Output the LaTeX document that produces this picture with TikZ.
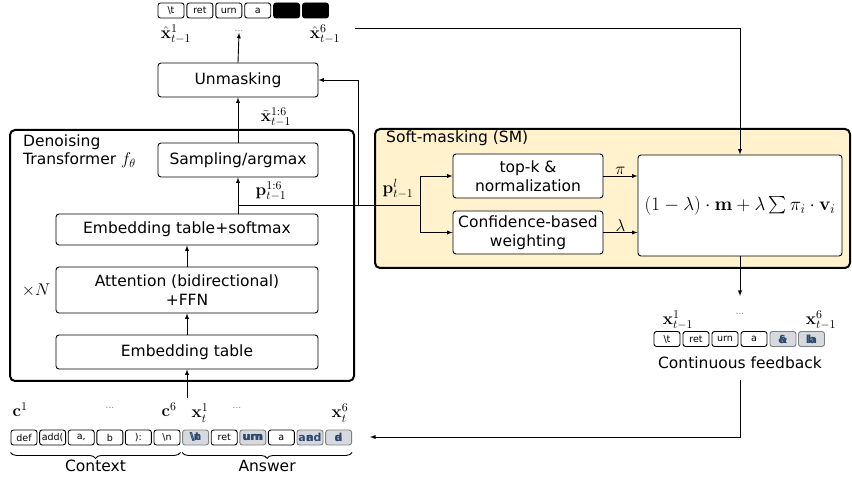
\RequirePackage{fix-cm}
\documentclass[tikz,border=0pt]{standalone}
\usepackage{amsmath}
\usepackage[no-math]{fontspec}
\setmainfont{DejaVu Sans}
\usetikzlibrary{decorations.pathreplacing}
\definecolor{smfill}{HTML}{FFF2CC}
\definecolor{tokgray}{HTML}{D6D9DE}
\definecolor{tokblue}{HTML}{2E4A6E}
\newcommand{\ovl}[2]{\makebox[0pt]{#1}\makebox[0pt]{#2}}
\newcommand{\bs}{\textbackslash}

\tikzset{
  box/.style={draw, fill=white, rounded corners=3pt, align=center, inner sep=0pt,
    line width=0.9pt, font=\fontsize{15.5}{18.5}\selectfont},
  frame/.style={draw, rounded corners=5pt, line width=2pt},
  tok/.style={draw, fill=white, rounded corners=2.5pt, minimum width=26pt,
    minimum height=15pt, inner sep=0pt, line width=0.9pt, font=\fontsize{9.5}{10}\selectfont},
  softtok/.style={tok, draw=gray, fill=tokgray, text=tokblue, font=\fontsize{11}{11}\selectfont\bfseries},
  masktok/.style={tok, fill=black},
  lbl/.style={font=\fontsize{15.5}{18}\selectfont, inner sep=1pt},
  mlbl/.style={font=\fontsize{17}{19}\selectfont, inner sep=0pt},
  dotsl/.style={font=\fontsize{9}{9}\selectfont, text=gray, inner sep=1pt},
  link/.style={line width=0.9pt},
  arr/.style={link, -latex},
}

\begin{document}
\begin{tikzpicture}[x=1pt, y=-1pt]
  \useasboundingbox (0,0) rectangle (852,486);

  % outer frames
  \draw[frame] (10,130) rectangle (354,381);
  \draw[frame, fill=smfill] (375,129) rectangle (850,268);
  \node[lbl, align=left, anchor=north west] (dtlabel) at (22,134) {Denoising\\Transformer \fontsize{17}{18}\selectfont$f_\theta$};
  \node[lbl, anchor=north west] (smlabel) at (385,130) {Soft-masking (SM)};

  % transformer blocks
  \node[box, minimum width=160pt, minimum height=34pt] (unmask) at (238,80) {Unmasking};
  \node[box, minimum width=160pt, minimum height=34pt] (sample) at (238,160) {Sampling/argmax};
  \node[box, minimum width=262pt, minimum height=31pt] (embsoft) at (187,229.5) {Embedding table+softmax};
  \node[box, minimum width=262pt, minimum height=46pt] (attn) at (187,290) {Attention (bidirectional)\\+FFN};
  \node[box, minimum width=262pt, minimum height=34pt] (emb) at (187,352) {Embedding table};
  \node[mlbl] (timesn) at (36,290) {$\times N$};

  % soft-masking blocks
  \node[box, minimum width=150pt, minimum height=44pt] (topk) at (528,176) {top-k \&\\normalization};
  \node[box, minimum width=150pt, minimum height=43pt] (conf) at (528,232.5) {Confidence-based\\weighting};
  \node[box, minimum width=204pt, minimum height=101pt, font=\fontsize{19}{21}\selectfont] (mix) at (740,205.5)
    {$(1-\lambda)\cdot\mathbf{m}+\lambda\sum\pi_i\cdot\mathbf{v}_i$};

  % tokens: context / answer
  \foreach \t [count=\i] in {def, add(, {a,}, b, ):, \bs n}{%
    \node[tok] (ctx\i) at ({24+28.6*(\i-1)},437.5) {\t};
  }
  \node[softtok] (ans1) at (195.6,437.5) {\ovl{\bs t}{\bs n}};
  \node[tok]     (ans2) at (224.2,437.5) {ret};
  \node[softtok] (ans3) at (252.8,437.5) {\ovl{urn}{um}};
  \node[tok]     (ans4) at (281.4,437.5) {a};
  \node[softtok] (ans5) at (310.0,437.5) {\ovl{and}{a}};
  \node[softtok] (ans6) at (338.6,437.5) {\ovl{d}{a}};

  % tokens: unmasked output
  \foreach \t [count=\i] in {\bs t, ret, urn, a}{%
    \node[tok] (out\i) at ({171+28.9*(\i-1)},10.5) {\t};
  }
  \node[masktok] (out5) at (286.6,10.5) {};
  \node[masktok] (out6) at (315.5,10.5) {};

  % tokens: continuous feedback
  \foreach \t [count=\i] in {\bs t, ret, urn, a}{%
    \node[tok] (fb\i) at ({667+29*(\i-1)},339) {\t};
  }
  \node[softtok] (fb5) at (783,339) {\ovl{\&}{a}};
  \node[softtok] (fb6) at (811.5,339) {\ovl{la}{b}};

  % labels
  \node[mlbl] (c1) at (20,410) {$\mathbf{c}^1$};
  \node[dotsl] (cdots) at (110,408) {...};
  \node[mlbl] (c6) at (169,410) {$\mathbf{c}^6$};
  \node[mlbl] (x1) at (200,413) {$\mathbf{x}_t^1$};
  \node[dotsl] (xdots) at (237,408) {...};
  \node[mlbl] (x6) at (340,413) {$\mathbf{x}_t^6$};
  \node[mlbl] (xh1) at (176,34) {$\hat{\mathbf{x}}_{t-1}^1$};
  \node[dotsl] (xhdots) at (239,31) {...};
  \node[mlbl] (xh6) at (325,34) {$\hat{\mathbf{x}}_{t-1}^6$};
  \node[mlbl] (f1) at (678,320) {$\mathbf{x}_{t-1}^1$};
  \node[dotsl] (fdots) at (740,314) {...};
  \node[mlbl] (f6) at (821,320) {$\mathbf{x}_{t-1}^6$};
  \node[lbl] (fbtext) at (740,363) {Continuous feedback};

  % braces
  \draw[decorate, decoration={brace, mirror, amplitude=6pt}, line width=0.9pt]
    ([yshift=-7pt]ctx1.south west) -- ([yshift=-7pt]ctx6.south east) node[midway, below=6pt, lbl] (ctxlbl) {Context};
  \draw[decorate, decoration={brace, mirror, amplitude=6pt}, line width=0.9pt]
    ([yshift=-7pt]ans1.south west) -- ([yshift=-7pt]ans6.south east) node[midway, below=6pt, lbl] (anslbl) {Answer};

  % helper points
  \coordinate (pjoin) at (238,205);
  \coordinate (ujoin) at (358,205);
  \coordinate (sjoin) at (420,205);
  \coordinate (topstart) at (355,28);
  \coordinate (inbot) at (187,398);
  \coordinate (mixend) at (740,296);
  \coordinate (fbstart) at (740,380);
  \coordinate (fbturn) at (740,437);
  \coordinate (fbend) at (370,437);

  % connectors in the transformer
  \draw[arr] (inbot) -- (emb.south);
  \draw[arr] (emb.north) -- (attn.south);
  \draw[arr] (attn.north) -- (embsoft.south);
  \draw[arr] (embsoft.north -| pjoin) -- (sample.south);
  \draw[arr] (sample.north) -- (unmask.south);
  \node[mlbl] (xtl) at (276,117) {$\tilde{\mathbf{x}}_{t-1}^{1:6}$};
  \draw[arr] (unmask.north) -- (xhdots.south);
  \node[mlbl] (plbl) at (271,191) {$\mathbf{p}_{t-1}^{1:6}$};

  % connectors into soft-masking
  \draw[link] (pjoin) -- (sjoin);
  \draw[arr] (ujoin) |- (unmask.east);
  \node[mlbl] (pllbl) at (398,189) {$\mathbf{p}_{t-1}^{l}$};
  \draw[arr] (sjoin) |- (topk.west);
  \draw[arr] (sjoin) |- (conf.west);
  \draw[arr] (topk.east) -- node[above=1pt, mlbl] (pilbl) {$\pi$} (topk.east -| mix.west);
  \draw[arr] (conf.east) -- node[above=1pt, mlbl] (lamlbl) {$\lambda$} (conf.east -| mix.west);
  \draw[arr] (topstart) -| (mix.north);
  \draw[arr] (mix.south) -- (mixend);
  \draw[arr] (fbstart) -- (fbturn) -- (fbend);
\end{tikzpicture}
\end{document}
